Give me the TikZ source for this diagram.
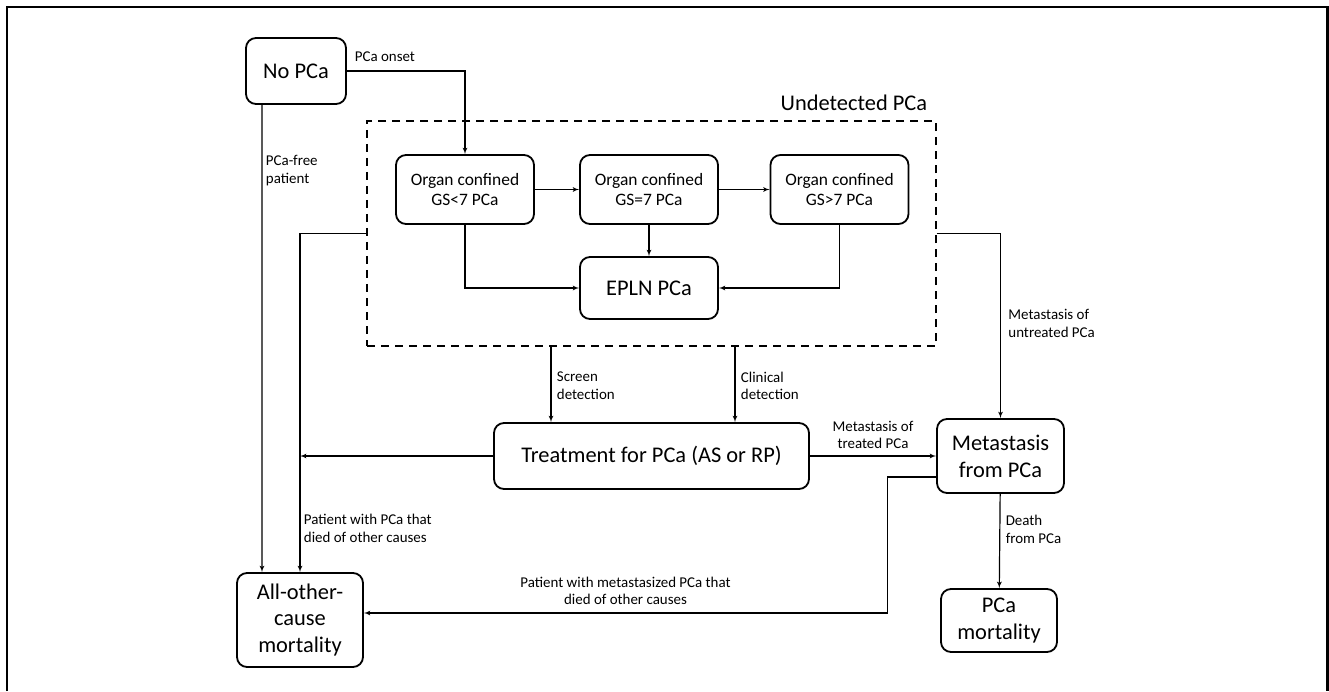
\documentclass[tikz,border=0pt]{standalone}
\usepackage{fontspec}
\setmainfont{Carlito}
\usepackage{tikz}
\usetikzlibrary{arrows}

\begin{document}
\begin{tikzpicture}[>=latex', x=1bp, y=-1bp, line width=1.2bp]
 \tikzstyle{stage}=[draw, line width=1.8bp, rounded corners=10bp, align=center, font=\fontsize{22.5}{27}\selectfont]
 \tikzstyle{organ}=[stage, font=\fontsize{17.5}{20.5}\selectfont, minimum width=138bp, minimum height=69bp]
 \tikzstyle{lbl}=[font=\fontsize{15}{18}\selectfont, align=left]
 \useasboundingbox (0,0) rectangle (1329,691);
 \draw[line width=2.5bp] (7,691) -- (7,7) -- (1327.5,7) -- (1327.5,691);

 \node (nopca) at (296,71) [stage, minimum width=100bp, minimum height=66bp] {No PCa};
 \node (undet) at (651.5,233.5) [draw, dash pattern=on 8bp off 6bp, minimum width=569bp, minimum height=225bp] {};
 \node (undetname) at (931,103) [anchor=east, font=\fontsize{22.5}{27}\selectfont] {Undetected PCa};
 \node (oc1) at (465,189.5) [organ] {Organ confined\\GS<7 PCa};
 \node (oc2) at (649,189.5) [organ] {Organ confined\\GS=7 PCa}; %same row, 184bp apart
 \node (oc3) at (839.5,189.5) [organ] {Organ confined\\GS>7 PCa};
 \node (epln) at (649,288) [stage, minimum width=138bp, minimum height=62bp] {EPLN PCa};

 \node (treat) at (651.5,456) [stage, minimum width=315bp, minimum height=66bp] {Treatment for PCa (AS or RP)};
 \node (meta) at (1000.5,456) [stage, minimum width=127bp, minimum height=74bp] {Metastasis\\from PCa};
 \node (pcamort) at (999,620.5) [stage, minimum width=116bp, minimum height=63bp] {PCa\\mortality};
 \node (allother) at (300,620) [stage, minimum width=126bp, minimum height=94bp] {All-other-\\cause\\mortality};


 \draw [->] (nopca) -| node[lbl, pos=0, above right, xshift=4bp, yshift=5bp] {PCa onset} (oc1);
 \draw [->] ([xshift=-34bp]nopca.south) -- node[lbl, pos=0.14, right] {PCa-free\\patient} ([xshift=-38bp]allother.north);
 \draw [->] (oc1) to (oc2);
 \draw [->] (oc2) to (oc3);
 \draw [->] (oc2) to (epln);
 \draw [->] (oc1) |- (epln);
 \draw [->] (oc3) |- (epln);

 \draw [->] (undet) -| node[lbl, pos=0.935, right] {Patient with PCa that\\died of other causes} (allother);
 \draw [->] (undet) -| node[lbl, pos=0.743, right, xshift=4bp] {Metastasis of\\untreated PCa} (meta);
 \draw [->] ([xshift=-100.5bp]undet.south) -- node[lbl, pos=0.52, right, xshift=2bp] {Screen\\detection} ([xshift=-100.5bp]treat.north);
 \draw [->] ([xshift=83.5bp]undet.south) -- node[lbl, pos=0.52, right, xshift=2bp] {Clinical\\detection} ([xshift=83.5bp]treat.north);

 \draw [->] (treat.west) -- (treat.west -| allother.north);
 \draw [->] (treat) to node[lbl, above, align=center, yshift=3bp] {Metastasis of\\treated PCa} (meta);
 \draw [->] (meta) to node[lbl, pos=0.375, right, xshift=2bp] {Death\\from PCa} (pcamort);
 \draw [->] ([yshift=-21bp]meta.west) -- ++(-49,0) |- node[lbl, pos=0.75, above, align=center, yshift=4bp] {Patient with metastasized PCa that\\died of other causes} ([yshift=7bp]allother.east);

\end{tikzpicture}
\end{document}
